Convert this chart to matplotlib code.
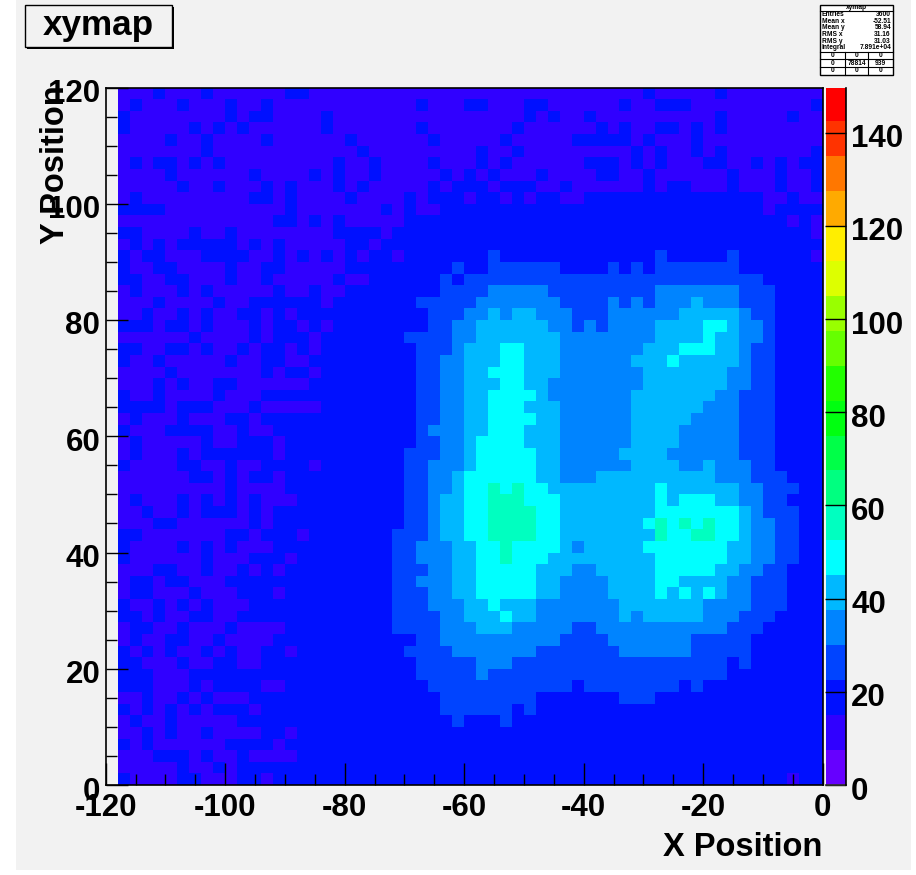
import numpy as np
import matplotlib
matplotlib.use('Agg')
from matplotlib import pyplot as plt
from matplotlib.colors import ListedColormap, BoundaryNorm
from matplotlib.patches import Rectangle
from matplotlib.ticker import MultipleLocator
from matplotlib.transforms import ScaledTranslation

plt.rcParams['font.family'] = ['Liberation Sans', 'DejaVu Sans']
plt.rcParams['font.weight'] = 'bold'
plt.rcParams['axes.unicode_minus'] = False

title = 'xymap'
x_title = 'X Position'
y_title = 'Y Position'
stat_names = ['Entries', 'Mean x', 'Mean y', 'RMS x', 'RMS y', 'Integral']
stat_values = ['3600', '-52.51', '58.94', '31.16', '31.03', '7.891e+04']
overflow_cells = [['0', '0', '0'], ['0', '78814', '939'], ['0', '0', '0']]

# palette band per 7.5 counts, 0 to 150
band_edges = [i * 7.5 for i in range(21)]
band_colors = ['#6600ff', '#3000ff', '#0010ff', '#0044ff', '#0084ff', '#00b8ff', '#00ffff',
               '#00ffc0', '#00ff80', '#00ff48', '#00ff10', '#22ff00', '#66ff00', '#99ff00',
               '#ddff00', '#ffee00', '#ffaa00', '#ff7700', '#ff3300', '#ff0000']

# palette band of each bin, top row first
# bins from x=-118 to x=-74
left_bins = [
    "1112 1112 1111 1122 1111 11", "1211 1211 1211 2111 1111 11", "2111 1111 1212 2111 1211 11",
    "2111 1121 2121 1111 1211 11", "1111 2112 1111 2111 1112 11", "1111 1112 1111 1111 1111 21",
    "1212 2121 2111 1111 1121 12", "1111 2111 1112 1111 2121 12", "1111 1211 2111 2121 1121 21",
    "1211 1111 1112 2121 1112 11", "2222 1111 1111 1121 1111 11", "1111 1111 1111 1221 2121 11",
    "2211 1121 1211 1111 1122 22", "1212 1222 2212 1211 1112 21", "2122 1112 2221 1212 1212 12",
    "2112 2111 1211 2211 1112 22", "2211 2211 1211 2111 1121 12", "1211 1212 1111 1211 2112 22",
    "1112 1111 2112 2222 2122 22", "1121 1212 1122 1212 2222 22", "2221 2212 1112 1221 2122 22",
    "1111 1121 1112 1222 1222 22", "2211 2212 1121 2212 1222 22", "2112 1111 1211 2211 2222 22",
    "1111 2111 1111 2122 1222 22", "1112 1211 2211 1111 2222 22", "2112 1111 2111 2222 2222 22",
    "2222 1222 1112 1111 1222 22", "1211 1211 1221 2222 2222 22", "2111 2222 1121 1222 2222 22",
    "1211 1112 1122 2122 2222 22", "1211 1212 2222 2122 2222 22", "2111 1221 1211 2222 1222 22",
    "1111 1122 1212 2122 2222 22", "1111 1111 1211 1122 2222 22", "1211 1212 1212 1112 2222 22",
    "1121 1212 2212 1222 2222 22", "1112 2111 1112 1222 2222 22", "2211 1111 1221 2221 2222 22",
    "2111 1212 1211 1222 2222 22", "2111 1112 1112 2212 2222 22", "1112 2112 1121 2122 2222 22",
    "1221 2211 1222 2222 2222 22", "1221 1121 1122 2122 2222 22", "2112 1212 1112 2222 2222 22",
    "2212 1122 1122 2222 2222 22", "1221 1211 1211 1122 2222 22", "1211 2211 2111 1222 2222 22",
    "2121 2112 1211 2212 2222 22", "2211 1211 2211 2222 2222 22", "2221 1122 2222 2222 2222 22",
    "2221 1121 2222 1122 2222 22", "1121 1212 1112 2222 2222 22", "2121 2121 2221 2222 2222 22",
    "1211 2111 1122 2222 2222 22", "1121 2112 1111 2212 2222 22", "2121 1111 1222 2122 2222 22",
    "1112 2212 1121 1112 2222 22", "1111 1211 2122 2222 2222 22", "2111 1221 1122 1222 2222 22",
]

# bins from x=-74 to x=0
right_bins = [
    "1111 1111 1111 1111 1111 1121 1111 2111 1111 1", "1112 1112 2111 2211 1111 2112 2211 1111 1111 2",
    "1111 1111 1111 2121 1211 1111 1111 2111 1121 1", "1112 1111 1112 1111 1121 2112 2121 2111 1111 1",
    "1111 2111 1121 1111 2222 2121 1121 1111 1111 1", "1111 1111 2112 1111 1111 1212 1121 2111 1111 2",
    "1111 2111 2121 1111 1222 1212 1112 2112 1212 2", "1111 1212 1211 1211 1122 1121 1111 1211 1211 2",
    "1111 2122 2122 2112 1111 1121 2211 1211 1211 2", "1121 2221 2212 1221 1222 2222 2222 2222 1121 1",
    "2121 1222 2222 2222 2222 2222 2222 2222 1222 2", "1122 2222 2222 2222 2222 2222 2222 2222 2212 1",
    "1222 2222 2222 2222 2222 2222 2222 2222 2222 1", "2222 2222 2222 2222 2222 2222 2222 2222 2222 2",
    "2122 2222 2322 2222 2222 2223 2222 2322 2222 1", "2222 2232 2333 3332 2223 2323 3333 3322 2222 2",
    "2222 2323 3333 3333 3333 3333 3333 3333 2222 2", "2222 2333 3444 4433 3333 3334 4444 4433 3222 2",
    "2223 3333 4444 4443 3334 3434 4454 4433 3222 2", "2222 3334 4545 5444 3334 4444 4555 5543 3222 2",
    "2222 3344 5555 5544 3434 4445 5556 6544 3222 2", "2233 3344 5555 5554 4444 4445 5556 5544 3222 2",
    "2223 3345 5566 5554 4444 4455 5666 5543 3222 2", "2223 3445 5566 5554 4444 4555 6555 5543 3222 2",
    "2223 3445 5666 5554 4444 4455 5555 5443 3222 2", "2223 3445 5566 5544 4444 4455 5555 5443 3222 2",
    "2223 3445 5666 6544 4444 4555 5555 4433 3222 2", "2223 3445 5666 5554 4444 4555 5554 4433 3222 2",
    "2223 3445 5666 6554 4444 4555 5544 4433 3222 2", "2223 4445 5666 5554 4444 4555 5444 4433 3222 2",
    "2223 3445 6666 5554 4444 4555 5444 4433 3222 2", "2233 3445 6666 6554 4444 5555 4444 4433 3222 2",
    "2233 4445 6666 6554 4444 4555 5445 4443 3222 2", "2233 4456 6666 6554 4455 5555 5555 4443 3322 2",
    "2233 4456 6767 6655 5555 5556 5555 5544 3332 2", "2233 4556 6777 6665 5555 5556 5666 5544 3322 2",
    "2233 4556 6777 7665 5555 5556 6666 6654 3332 2", "2233 4556 6777 7665 5555 5567 6767 6654 4332 2",
    "2333 4556 6777 7665 5555 5557 6677 6654 4332 2", "2334 4455 6676 6665 4555 5566 6666 6554 4332 2",
    "2334 4455 6676 6655 5555 5556 6666 6554 4332 2", "2333 4455 6666 6555 4455 5556 6666 5544 3322 2",
    "2334 4455 6666 6554 4445 5556 6555 5443 3322 2", "2333 4455 6666 6554 4445 5556 5656 5443 3322 2",
    "2333 4445 5655 5444 4444 5555 5554 4443 3322 2", "2333 3445 5565 5444 4444 5455 5554 4433 3222 2",
    "2333 3444 5554 4444 3344 4444 4444 4333 2222 2", "2223 3444 4444 4443 3334 4444 4433 3332 2222 2",
    "2233 3344 4444 4333 3333 4444 4433 3332 2222 2", "2223 3333 4443 3333 3333 3333 3333 3232 2222 2",
    "2223 3333 4333 3333 3333 3333 3333 3222 2222 2", "2222 3333 3333 3333 2333 3333 3232 2222 2222 2",
    "2222 2333 3333 3222 2222 3332 2222 2222 2222 2", "2222 2333 3332 3222 2222 2222 2222 2222 2222 2",
    "2222 2232 2232 2222 2222 2222 2222 2222 2222 2", "2222 2222 2222 2222 2222 2222 2222 2222 2222 2",
    "2222 2222 2222 2222 2222 2222 2222 2222 2222 2", "2222 2222 2222 2222 2222 2222 2222 2222 2222 2",
    "2222 2222 2222 2222 2222 2222 2222 2222 2222 2", "2222 2222 2222 2222 2222 2222 2222 2222 2212 2",
]

x_edges = np.arange(-118, 1, 2)
y_edges = np.arange(0, 121, 2)

W, H = 916, 875


def px_rect(x0, y_top, x1, y_bottom):
    return [x0 / W, 1 - y_bottom / H, (x1 - x0) / W, (y_bottom - y_top) / H]


fig = plt.figure(figsize=(W / 100, H / 100), dpi=100, facecolor='white')

# canvas, title box and stats box drawn in pixel coordinates
bg = fig.add_axes([0, 0, 1, 1], zorder=0)
bg.set_xlim(0, W)
bg.set_ylim(H, 0)
bg.axis('off')
bg.add_patch(Rectangle((16, 0), 895, 870, fc='#f2f2f2', ec='none'))

bg.add_patch(Rectangle((26.5, 6.5), 147.5, 42.5, fc='black', ec='none'))
bg.add_patch(Rectangle((24.5, 4.5), 147.5, 42.5, fc='#f2f2f2', ec='black', lw=1))
bg.text(98, 25.5, title, fontsize=25.3, ha='center', va='center')

bg.add_patch(Rectangle((821, 5.5), 73, 70.5, fc='black', ec='none'))
bg.add_patch(Rectangle((820, 4.5), 73, 70.5, fc='white', ec='black', lw=1))
bg.plot([820, 893], [10.7, 10.7], color='black', lw=0.8)
bg.text(856.5, 7.5, title, fontsize=4.8, ha='center', va='center')
for i in range(len(stat_names)):
    y = 14.5 + 6.65 * i
    bg.text(822, y, stat_names[i], fontsize=4.8, ha='left', va='center')
    bg.text(891, y, stat_values[i], fontsize=4.8, ha='right', va='center')
row_lines = [52.3, 59.3, 66.7]
for y in row_lines:
    bg.plot([820, 893], [y, y], color='black', lw=0.8)
for x in [845, 868]:
    bg.plot([x, x], [52.3, 75], color='black', lw=0.8)
for i in range(3):
    for j in range(3):
        bg.text([832.5, 856.5, 880.5][j], 55.8 + 7.4 * i, overflow_cells[i][j],
                fontsize=4.8, ha='center', va='center')

cmap = ListedColormap(band_colors)
norm = BoundaryNorm(band_edges, cmap.N)

left = [list(r.replace(' ', '')) for r in left_bins]
right = [list(r.replace(' ', '')) for r in right_bins]
levels = np.hstack([np.array(left, dtype=int), np.array(right, dtype=int)])
counts = (levels + 0.5) * 7.5
counts = counts[::-1]

ax = fig.add_axes(px_rect(105.7, 87.5, 822.6, 785), zorder=1)
ax.set_facecolor('#f2f2f2')
ax.pcolormesh(x_edges, y_edges, counts, cmap=cmap, norm=norm, edgecolors='none', zorder=1)
ax.set_xlim(-120, 0)
ax.set_ylim(0, 120)
ax.xaxis.set_major_locator(MultipleLocator(20))
ax.xaxis.set_minor_locator(MultipleLocator(5))
ax.yaxis.set_major_locator(MultipleLocator(20))
ax.yaxis.set_minor_locator(MultipleLocator(5))
ax.tick_params(which='major', direction='in', length=15.8, width=1, labelsize=22.5, zorder=3)
ax.tick_params(which='minor', direction='in', length=7.9, width=1, zorder=3)
ax.tick_params(axis='x', which='major', pad=5.5)
ax.tick_params(axis='y', which='major', pad=4)
ax.set_axisbelow(False)
for s in ax.spines.values():
    s.set_linewidth(1.2)
ax.set_xlabel(x_title, fontsize=23.5, fontweight='bold', loc='right', va='top')
ax.xaxis.set_label_coords(1.0, -0.0675)
ax.set_ylabel(y_title, fontsize=23.5, fontweight='bold', loc='top')
ax.yaxis.set_label_coords(-0.0484, 1.003)

# palette on the right side
cax = fig.add_axes(px_rect(825.8, 87.5, 845.5, 785), zorder=1)
cax.pcolormesh([0, 1], band_edges, (np.array(band_edges[:-1]) + 3.75).reshape(-1, 1),
               cmap=cmap, norm=norm, edgecolors='none')
cax.set_xlim(0, 1)
cax.set_ylim(0, 149.7)
cax.set_xticks([])
cax.yaxis.tick_right()
cax.yaxis.set_major_locator(MultipleLocator(20))
cax.tick_params(axis='y', direction='in', length=15, width=1, labelsize=22.5, pad=4)
for name in ['top', 'left', 'bottom']:
    cax.spines[name].set_visible(False)
cax.spines['right'].set_linewidth(1.2)
cax.plot([0, 1], [0, 0], color='#333333', lw=1.2, clip_on=False)

# the tick numbers sit a little below their ticks
shift_down = ScaledTranslation(0, -3 / 72 * 72 / 100, fig.dpi_scale_trans)
for lab in ax.get_yticklabels() + cax.get_yticklabels():
    lab.set_transform(lab.get_transform() + shift_down)

fig.savefig('out.png', dpi=100)
